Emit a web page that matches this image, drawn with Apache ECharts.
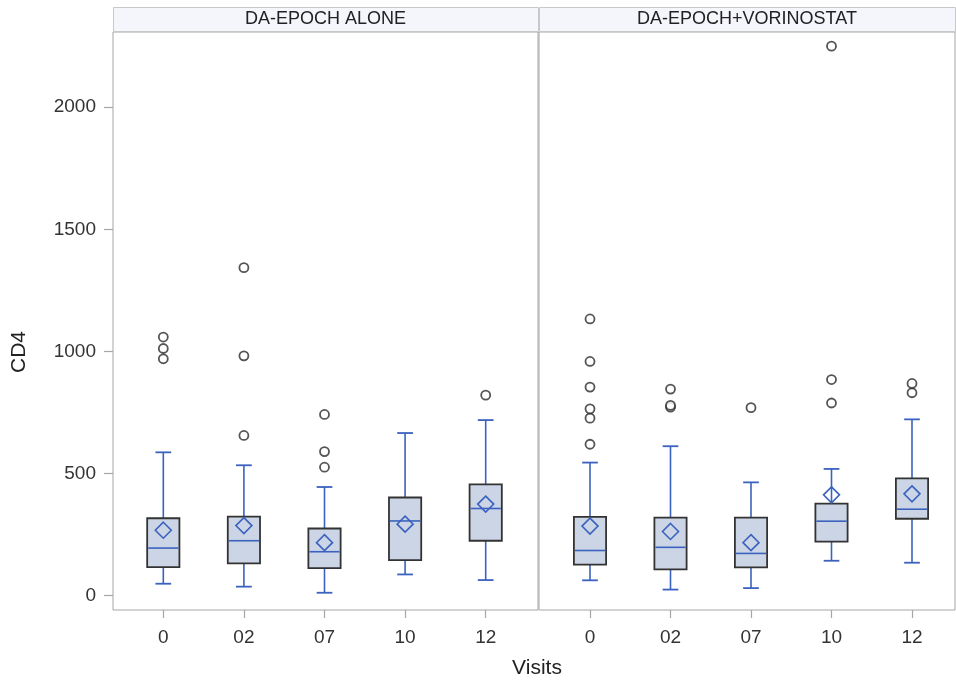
<!DOCTYPE html>
<html>
<head>
<meta charset="utf-8">
<script src="https://cdn.jsdelivr.net/npm/echarts@6/dist/echarts.min.js"></script>
<style>html,body{margin:0;padding:0;background:#fff}#c{width:956px;height:686px}</style>
</head>
<body>
<div id="c"></div>
<script>
// ---- data ----
const visits = ['0', '02', '07', '10', '12'];
const panels = ['DA-EPOCH ALONE', 'DA-EPOCH+VORINOSTAT'];
const yTicks = [0, 500, 1000, 1500, 2000];

// [whisker min, Q1, median, Q3, whisker max] per visit
const aloneStats = [
  [49, 117, 195, 317, 587],
  [37, 132, 225, 324, 534],
  [12, 113, 180, 275, 445],
  [87, 146, 306, 402, 666],
  [64, 225, 357, 456, 719]
];
const aloneMeans = [268, 287, 217, 293, 375];
const aloneOutliers = [
  [0, 970], [0, 1012], [0, 1059],
  [1, 656], [1, 982], [1, 1343],
  [2, 526], [2, 590], [2, 742],
  [4, 821]
];

const vorStats = [
  [63, 127, 185, 323, 545],
  [25, 108, 198, 320, 612],
  [31, 116, 173, 320, 464],
  [143, 221, 305, 377, 519],
  [135, 315, 354, 480, 722]
];
const vorMeans = [285, 263, 217, 413, 417];
const vorOutliers = [
  [0, 620], [0, 727], [0, 765], [0, 854], [0, 959], [0, 1133],
  [1, 772], [1, 779], [1, 846],
  [2, 770],
  [3, 789], [3, 885], [3, 2250],
  [4, 831], [4, 869]
];

// ---- style ----
const FONT = 'Liberation Sans, Arial, sans-serif';
const BLUE = '#3b62bf';
const FILL = '#cbd5e6';
const EDGE = '#333333';
const FRAME = '#a6a6a6';
const Y_MIN = -58.6, Y_MAX = 2308;
const TOP = 32, BOTTOM = 76; // plot bottom at y=610

function boxData(stats, means) {
  return stats.map((s, i) => [i, s[0], s[1], s[2], s[3], s[4], means[i]]);
}

function renderBox(params, api) {
  const x = api.value(0);
  const pMin = api.coord([x, api.value(1)]);
  const pQ1 = api.coord([x, api.value(2)]);
  const pMed = api.coord([x, api.value(3)]);
  const pQ3 = api.coord([x, api.value(4)]);
  const pMax = api.coord([x, api.value(5)]);
  const pMean = api.coord([x, api.value(6)]);
  const band = api.size([1, 0])[0];
  const bw = band * 0.40, cw = band * 0.195;
  const cx = pMed[0];
  const d = 8;
  const line = (x1, y1, x2, y2, col, w) => ({
    type: 'line', shape: {x1, y1, x2, y2},
    style: {stroke: col, lineWidth: w}
  });
  return {
    type: 'group',
    children: [
      line(cx, pQ3[1], cx, pMax[1], BLUE, 1.6),
      line(cx, pQ1[1], cx, pMin[1], BLUE, 1.6),
      line(cx - cw / 2, pMax[1], cx + cw / 2, pMax[1], BLUE, 1.8),
      line(cx - cw / 2, pMin[1], cx + cw / 2, pMin[1], BLUE, 1.8),
      {
        type: 'rect',
        shape: {x: cx - bw / 2, y: pQ3[1], width: bw, height: pQ1[1] - pQ3[1]},
        style: {fill: FILL, stroke: EDGE, lineWidth: 1.8}
      },
      line(cx - bw / 2 + 1, pMed[1], cx + bw / 2 - 1, pMed[1], BLUE, 1.6),
      {
        type: 'polygon',
        shape: {points: [[cx, pMean[1] - d], [cx + d, pMean[1]], [cx, pMean[1] + d], [cx - d, pMean[1]]]},
        style: {fill: 'none', stroke: BLUE, lineWidth: 1.6}
      }
    ]
  };
}

const chart = echarts.init(document.getElementById('c'), null, {renderer: 'canvas'});

const framePos = [
  {left: 113, width: 425},
  {left: 539, width: 416}
];
const dataPos = [
  {left: 123, width: 403},
  {left: 549.75, width: 402.5}
];

const grids = [];
framePos.forEach(p => grids.push({left: p.left, width: p.width, top: TOP, bottom: BOTTOM, show: true, borderColor: FRAME, borderWidth: 1, backgroundColor: '#fff'}));
dataPos.forEach(p => grids.push({left: p.left, width: p.width, top: TOP, bottom: BOTTOM}));

function catAxis(gi) {
  return {
    gridIndex: gi, type: 'category', data: visits, boundaryGap: true, position: 'bottom',
    axisLine: {show: false, onZero: false},
    axisTick: {show: true, inside: false, alignWithLabel: true, length: 8, lineStyle: {color: FRAME, width: 1.2}},
    axisLabel: {fontSize: 19, color: '#333', margin: 18, fontFamily: FONT}
  };
}

const xAxes = [
  {gridIndex: 0, type: 'value', show: false},
  {gridIndex: 1, type: 'value', show: false},
  catAxis(2),
  catAxis(3)
];
const yAxes = [
  {
    gridIndex: 0, type: 'value', min: Y_MIN, max: Y_MAX,
    axisLine: {show: false},
    splitLine: {show: false},
    axisTick: {show: true, length: 9, lineStyle: {color: FRAME, width: 1.2}, customValues: yTicks},
    axisLabel: {fontSize: 19, color: '#333', margin: 17, fontFamily: FONT, customValues: yTicks,
      formatter: v => String(v)}
  },
  {gridIndex: 1, type: 'value', min: Y_MIN, max: Y_MAX, show: false, splitLine: {show: false}},
  {gridIndex: 2, type: 'value', min: Y_MIN, max: Y_MAX, show: false, splitLine: {show: false}},
  {gridIndex: 3, type: 'value', min: Y_MIN, max: Y_MAX, show: false, splitLine: {show: false}}
];

const outlierStyle = {color: '#fff', borderColor: '#2a2a2a', borderWidth: 1.8};

const series = [
  {type: 'custom', xAxisIndex: 2, yAxisIndex: 2, renderItem: renderBox, data: boxData(aloneStats, aloneMeans), encode: {x: 0, y: [1, 2, 3, 4, 5, 6]}, z: 3},
  {type: 'custom', xAxisIndex: 3, yAxisIndex: 3, renderItem: renderBox, data: boxData(vorStats, vorMeans), encode: {x: 0, y: [1, 2, 3, 4, 5, 6]}, z: 3},
  {type: 'scatter', xAxisIndex: 2, yAxisIndex: 2, data: aloneOutliers, symbol: 'circle', symbolSize: 9, itemStyle: outlierStyle, z: 4},
  {type: 'scatter', xAxisIndex: 3, yAxisIndex: 3, data: vorOutliers, symbol: 'circle', symbolSize: 9, itemStyle: outlierStyle, z: 4}
];

const graphics = [];
framePos.forEach((p, i) => {
  graphics.push({
    type: 'rect', left: p.left, top: 7, z: 10,
    shape: {width: p.width, height: 24},
    style: {fill: '#f5f5fc', stroke: '#c8c8c8', lineWidth: 1}
  });
  graphics.push({
    type: 'text', z: 11,
    x: p.left + p.width / 2, y: 19.5,
    style: {text: panels[i], font: '18px ' + FONT, fill: '#222', align: 'center', verticalAlign: 'middle'}
  });
});
graphics.push({
  type: 'text', x: 19, y: 352, rotation: Math.PI / 2,
  style: {text: 'CD4', font: '21px ' + FONT, fill: '#222', align: 'center', verticalAlign: 'middle'}
});
graphics.push({
  type: 'text', x: 537, y: 668,
  style: {text: 'Visits', font: '21px ' + FONT, fill: '#222', align: 'center', verticalAlign: 'middle'}
});

chart.setOption({
  animation: false,
  backgroundColor: '#fff',
  textStyle: {fontFamily: FONT},
  grid: grids,
  xAxis: xAxes,
  yAxis: yAxes,
  series: series,
  graphic: graphics
});
</script>
</body>
</html>
